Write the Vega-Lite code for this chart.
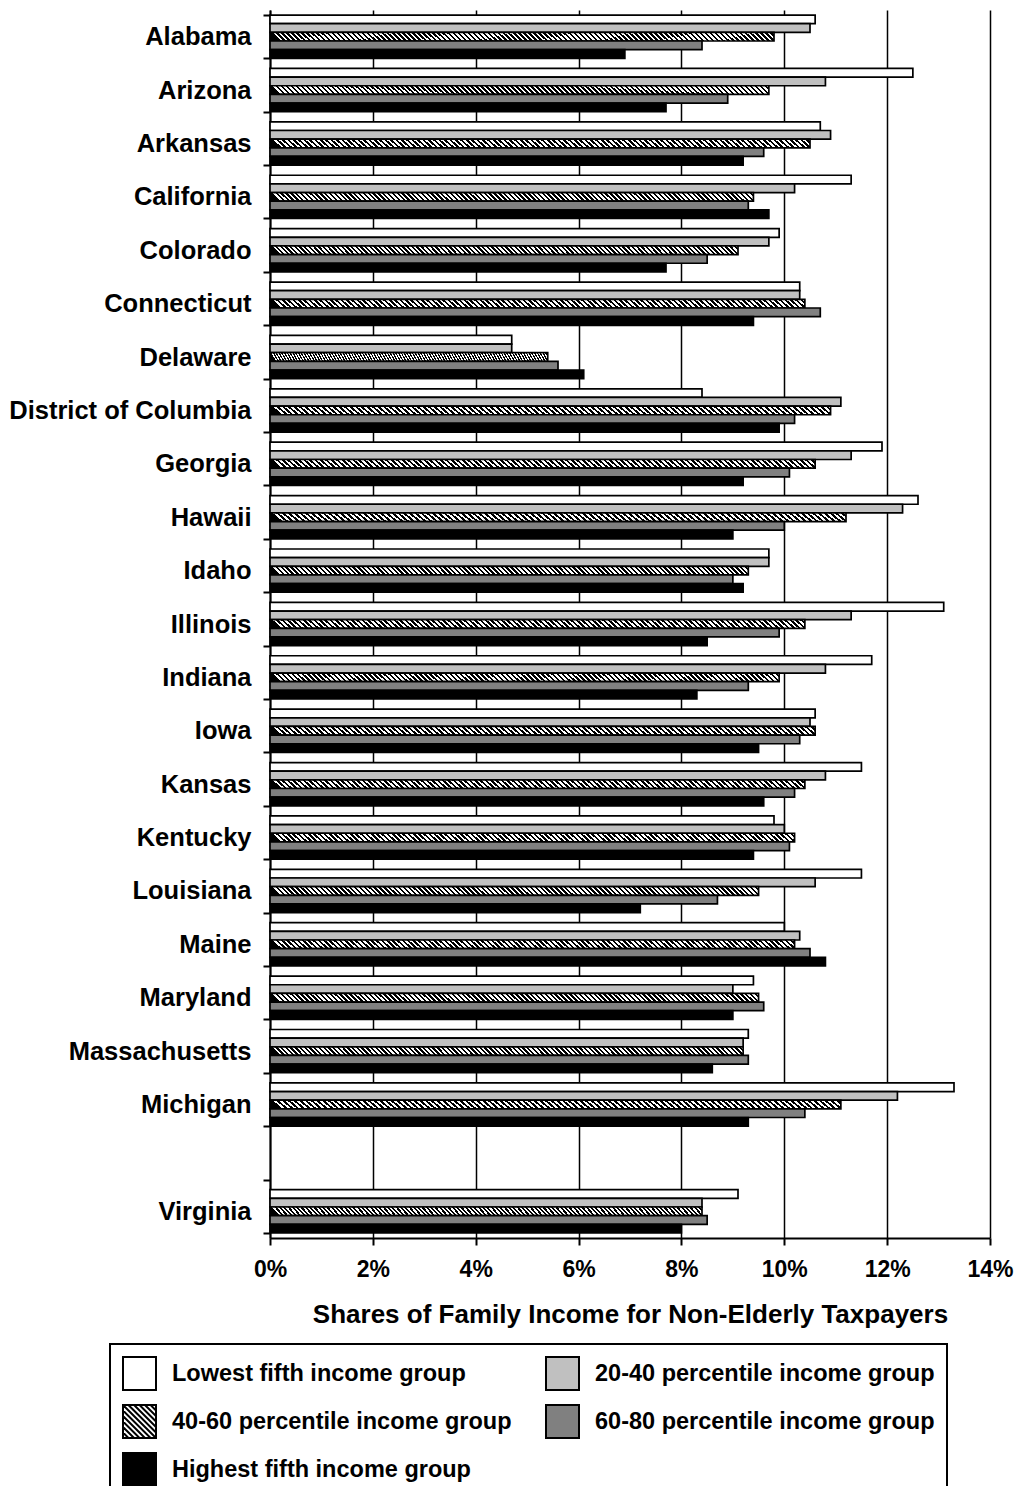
{
"$schema": "https://vega.github.io/schema/vega-lite/v6.json",
"autosize": {"type": "none"},
"width": 720,
"height": 1228,
"padding": {"left": 270, "top": 10, "right": 31, "bottom": 248},
"background": "white",
"config": {"view": {"stroke": null}, "font": "Liberation Sans"},
"data": {"values": [
{"state":"Alabama","group":"Lowest fifth income group","value":10.6},
{"state":"Alabama","group":"20-40 percentile income group","value":10.5},
{"state":"Alabama","group":"40-60 percentile income group","value":9.8},
{"state":"Alabama","group":"60-80 percentile income group","value":8.4},
{"state":"Alabama","group":"Highest fifth income group","value":6.9},
{"state":"Arizona","group":"Lowest fifth income group","value":12.5},
{"state":"Arizona","group":"20-40 percentile income group","value":10.8},
{"state":"Arizona","group":"40-60 percentile income group","value":9.7},
{"state":"Arizona","group":"60-80 percentile income group","value":8.9},
{"state":"Arizona","group":"Highest fifth income group","value":7.7},
{"state":"Arkansas","group":"Lowest fifth income group","value":10.7},
{"state":"Arkansas","group":"20-40 percentile income group","value":10.9},
{"state":"Arkansas","group":"40-60 percentile income group","value":10.5},
{"state":"Arkansas","group":"60-80 percentile income group","value":9.6},
{"state":"Arkansas","group":"Highest fifth income group","value":9.2},
{"state":"California","group":"Lowest fifth income group","value":11.3},
{"state":"California","group":"20-40 percentile income group","value":10.2},
{"state":"California","group":"40-60 percentile income group","value":9.4},
{"state":"California","group":"60-80 percentile income group","value":9.3},
{"state":"California","group":"Highest fifth income group","value":9.7},
{"state":"Colorado","group":"Lowest fifth income group","value":9.9},
{"state":"Colorado","group":"20-40 percentile income group","value":9.7},
{"state":"Colorado","group":"40-60 percentile income group","value":9.1},
{"state":"Colorado","group":"60-80 percentile income group","value":8.5},
{"state":"Colorado","group":"Highest fifth income group","value":7.7},
{"state":"Connecticut","group":"Lowest fifth income group","value":10.3},
{"state":"Connecticut","group":"20-40 percentile income group","value":10.3},
{"state":"Connecticut","group":"40-60 percentile income group","value":10.4},
{"state":"Connecticut","group":"60-80 percentile income group","value":10.7},
{"state":"Connecticut","group":"Highest fifth income group","value":9.4},
{"state":"Delaware","group":"Lowest fifth income group","value":4.7},
{"state":"Delaware","group":"20-40 percentile income group","value":4.7},
{"state":"Delaware","group":"40-60 percentile income group","value":5.4},
{"state":"Delaware","group":"60-80 percentile income group","value":5.6},
{"state":"Delaware","group":"Highest fifth income group","value":6.1},
{"state":"District of Columbia","group":"Lowest fifth income group","value":8.4},
{"state":"District of Columbia","group":"20-40 percentile income group","value":11.1},
{"state":"District of Columbia","group":"40-60 percentile income group","value":10.9},
{"state":"District of Columbia","group":"60-80 percentile income group","value":10.2},
{"state":"District of Columbia","group":"Highest fifth income group","value":9.9},
{"state":"Georgia","group":"Lowest fifth income group","value":11.9},
{"state":"Georgia","group":"20-40 percentile income group","value":11.3},
{"state":"Georgia","group":"40-60 percentile income group","value":10.6},
{"state":"Georgia","group":"60-80 percentile income group","value":10.1},
{"state":"Georgia","group":"Highest fifth income group","value":9.2},
{"state":"Hawaii","group":"Lowest fifth income group","value":12.6},
{"state":"Hawaii","group":"20-40 percentile income group","value":12.3},
{"state":"Hawaii","group":"40-60 percentile income group","value":11.2},
{"state":"Hawaii","group":"60-80 percentile income group","value":10.0},
{"state":"Hawaii","group":"Highest fifth income group","value":9.0},
{"state":"Idaho","group":"Lowest fifth income group","value":9.7},
{"state":"Idaho","group":"20-40 percentile income group","value":9.7},
{"state":"Idaho","group":"40-60 percentile income group","value":9.3},
{"state":"Idaho","group":"60-80 percentile income group","value":9.0},
{"state":"Idaho","group":"Highest fifth income group","value":9.2},
{"state":"Illinois","group":"Lowest fifth income group","value":13.1},
{"state":"Illinois","group":"20-40 percentile income group","value":11.3},
{"state":"Illinois","group":"40-60 percentile income group","value":10.4},
{"state":"Illinois","group":"60-80 percentile income group","value":9.9},
{"state":"Illinois","group":"Highest fifth income group","value":8.5},
{"state":"Indiana","group":"Lowest fifth income group","value":11.7},
{"state":"Indiana","group":"20-40 percentile income group","value":10.8},
{"state":"Indiana","group":"40-60 percentile income group","value":9.9},
{"state":"Indiana","group":"60-80 percentile income group","value":9.3},
{"state":"Indiana","group":"Highest fifth income group","value":8.3},
{"state":"Iowa","group":"Lowest fifth income group","value":10.6},
{"state":"Iowa","group":"20-40 percentile income group","value":10.5},
{"state":"Iowa","group":"40-60 percentile income group","value":10.6},
{"state":"Iowa","group":"60-80 percentile income group","value":10.3},
{"state":"Iowa","group":"Highest fifth income group","value":9.5},
{"state":"Kansas","group":"Lowest fifth income group","value":11.5},
{"state":"Kansas","group":"20-40 percentile income group","value":10.8},
{"state":"Kansas","group":"40-60 percentile income group","value":10.4},
{"state":"Kansas","group":"60-80 percentile income group","value":10.2},
{"state":"Kansas","group":"Highest fifth income group","value":9.6},
{"state":"Kentucky","group":"Lowest fifth income group","value":9.8},
{"state":"Kentucky","group":"20-40 percentile income group","value":10.0},
{"state":"Kentucky","group":"40-60 percentile income group","value":10.2},
{"state":"Kentucky","group":"60-80 percentile income group","value":10.1},
{"state":"Kentucky","group":"Highest fifth income group","value":9.4},
{"state":"Louisiana","group":"Lowest fifth income group","value":11.5},
{"state":"Louisiana","group":"20-40 percentile income group","value":10.6},
{"state":"Louisiana","group":"40-60 percentile income group","value":9.5},
{"state":"Louisiana","group":"60-80 percentile income group","value":8.7},
{"state":"Louisiana","group":"Highest fifth income group","value":7.2},
{"state":"Maine","group":"Lowest fifth income group","value":10.0},
{"state":"Maine","group":"20-40 percentile income group","value":10.3},
{"state":"Maine","group":"40-60 percentile income group","value":10.2},
{"state":"Maine","group":"60-80 percentile income group","value":10.5},
{"state":"Maine","group":"Highest fifth income group","value":10.8},
{"state":"Maryland","group":"Lowest fifth income group","value":9.4},
{"state":"Maryland","group":"20-40 percentile income group","value":9.0},
{"state":"Maryland","group":"40-60 percentile income group","value":9.5},
{"state":"Maryland","group":"60-80 percentile income group","value":9.6},
{"state":"Maryland","group":"Highest fifth income group","value":9.0},
{"state":"Massachusetts","group":"Lowest fifth income group","value":9.3},
{"state":"Massachusetts","group":"20-40 percentile income group","value":9.2},
{"state":"Massachusetts","group":"40-60 percentile income group","value":9.2},
{"state":"Massachusetts","group":"60-80 percentile income group","value":9.3},
{"state":"Massachusetts","group":"Highest fifth income group","value":8.6},
{"state":"Michigan","group":"Lowest fifth income group","value":13.3},
{"state":"Michigan","group":"20-40 percentile income group","value":12.2},
{"state":"Michigan","group":"40-60 percentile income group","value":11.1},
{"state":"Michigan","group":"60-80 percentile income group","value":10.4},
{"state":"Michigan","group":"Highest fifth income group","value":9.3},
{"state":"Virginia","group":"Lowest fifth income group","value":9.1},
{"state":"Virginia","group":"20-40 percentile income group","value":8.4},
{"state":"Virginia","group":"40-60 percentile income group","value":8.4},
{"state":"Virginia","group":"60-80 percentile income group","value":8.5},
{"state":"Virginia","group":"Highest fifth income group","value":8.0}
]},
"mark": {"type": "bar", "stroke": "black", "strokeWidth": 1.7},
"encoding": {
"y": {"field": "state", "type": "nominal", "sort": null,
 "scale": {"domain": ["Alabama","Arizona","Arkansas","California","Colorado","Connecticut","Delaware","District of Columbia","Georgia","Hawaii","Idaho","Illinois","Indiana","Iowa","Kansas","Kentucky","Louisiana","Maine","Maryland","Massachusetts","Michigan"," ","Virginia"], "paddingInner": 0.19, "paddingOuter": 0.095},
 "axis": {"title": null, "domainColor": "black", "domainWidth": 2, "ticks": true, "tickBand": "extent", "tickSize": 7, "tickColor": "black", "tickWidth": 2, "labelFont": "Liberation Sans", "labelFontWeight": "bold", "labelFontSize": 25.5, "labelColor": "black", "labelPadding": 12, "grid": false, "labelLimit": 300}},
"yOffset": {"field": "group", "type": "nominal", "sort": null,
 "scale": {"domain": ["Lowest fifth income group","20-40 percentile income group","40-60 percentile income group","60-80 percentile income group","Highest fifth income group"], "paddingInner": 0, "paddingOuter": 0}},
"x": {"field": "value", "type": "quantitative", "scale": {"domain": [0, 14], "nice": false},
 "axis": {"title": "Shares of Family Income for Non-Elderly Taxpayers", "values": [0,2,4,6,8,10,12,14], "labelExpr": "datum.value + '%'", "grid": true, "gridColor": "black", "gridWidth": 1.5, "gridOpacity": 1, "domainColor": "black", "domainWidth": 2, "tickColor": "black", "tickSize": 7, "tickWidth": 2, "labelFont": "Liberation Sans", "labelFontSize": 23, "labelFontWeight": "bold", "labelColor": "black", "labelPadding": 13, "labelFlush": false, "titleFont": "Liberation Sans", "titleFontSize": 26, "titleFontWeight": "bold", "titleColor": "black", "titlePadding": 20}},
"color": {
 "condition": {"test": "datum.group === '40-60 percentile income group'", "value": {"gradient": "linear", "x1": 0, "y1": 0.018, "x2": 1, "y2": 0, "stops": [
{"offset":0,"color":"#000"},{"offset":0.005,"color":"#000"},{"offset":0.005,"color":"#fff"},{"offset":0.01,"color":"#fff"},
{"offset":0.01,"color":"#000"},{"offset":0.015,"color":"#000"},{"offset":0.015,"color":"#fff"},{"offset":0.02,"color":"#fff"},
{"offset":0.02,"color":"#000"},{"offset":0.025,"color":"#000"},{"offset":0.025,"color":"#fff"},{"offset":0.03,"color":"#fff"},
{"offset":0.03,"color":"#000"},{"offset":0.035,"color":"#000"},{"offset":0.035,"color":"#fff"},{"offset":0.04,"color":"#fff"},
{"offset":0.04,"color":"#000"},{"offset":0.045,"color":"#000"},{"offset":0.045,"color":"#fff"},{"offset":0.05,"color":"#fff"},
{"offset":0.05,"color":"#000"},{"offset":0.055,"color":"#000"},{"offset":0.055,"color":"#fff"},{"offset":0.06,"color":"#fff"},
{"offset":0.06,"color":"#000"},{"offset":0.065,"color":"#000"},{"offset":0.065,"color":"#fff"},{"offset":0.07,"color":"#fff"},
{"offset":0.07,"color":"#000"},{"offset":0.075,"color":"#000"},{"offset":0.075,"color":"#fff"},{"offset":0.08,"color":"#fff"},
{"offset":0.08,"color":"#000"},{"offset":0.085,"color":"#000"},{"offset":0.085,"color":"#fff"},{"offset":0.09,"color":"#fff"},
{"offset":0.09,"color":"#000"},{"offset":0.095,"color":"#000"},{"offset":0.095,"color":"#fff"},{"offset":0.1,"color":"#fff"},
{"offset":0.1,"color":"#000"},{"offset":0.105,"color":"#000"},{"offset":0.105,"color":"#fff"},{"offset":0.11,"color":"#fff"},
{"offset":0.11,"color":"#000"},{"offset":0.115,"color":"#000"},{"offset":0.115,"color":"#fff"},{"offset":0.12,"color":"#fff"},
{"offset":0.12,"color":"#000"},{"offset":0.125,"color":"#000"},{"offset":0.125,"color":"#fff"},{"offset":0.13,"color":"#fff"},
{"offset":0.13,"color":"#000"},{"offset":0.135,"color":"#000"},{"offset":0.135,"color":"#fff"},{"offset":0.14,"color":"#fff"},
{"offset":0.14,"color":"#000"},{"offset":0.145,"color":"#000"},{"offset":0.145,"color":"#fff"},{"offset":0.15,"color":"#fff"},
{"offset":0.15,"color":"#000"},{"offset":0.155,"color":"#000"},{"offset":0.155,"color":"#fff"},{"offset":0.16,"color":"#fff"},
{"offset":0.16,"color":"#000"},{"offset":0.165,"color":"#000"},{"offset":0.165,"color":"#fff"},{"offset":0.17,"color":"#fff"},
{"offset":0.17,"color":"#000"},{"offset":0.175,"color":"#000"},{"offset":0.175,"color":"#fff"},{"offset":0.18,"color":"#fff"},
{"offset":0.18,"color":"#000"},{"offset":0.185,"color":"#000"},{"offset":0.185,"color":"#fff"},{"offset":0.19,"color":"#fff"},
{"offset":0.19,"color":"#000"},{"offset":0.195,"color":"#000"},{"offset":0.195,"color":"#fff"},{"offset":0.2,"color":"#fff"},
{"offset":0.2,"color":"#000"},{"offset":0.205,"color":"#000"},{"offset":0.205,"color":"#fff"},{"offset":0.21,"color":"#fff"},
{"offset":0.21,"color":"#000"},{"offset":0.215,"color":"#000"},{"offset":0.215,"color":"#fff"},{"offset":0.22,"color":"#fff"},
{"offset":0.22,"color":"#000"},{"offset":0.225,"color":"#000"},{"offset":0.225,"color":"#fff"},{"offset":0.23,"color":"#fff"},
{"offset":0.23,"color":"#000"},{"offset":0.235,"color":"#000"},{"offset":0.235,"color":"#fff"},{"offset":0.24,"color":"#fff"},
{"offset":0.24,"color":"#000"},{"offset":0.245,"color":"#000"},{"offset":0.245,"color":"#fff"},{"offset":0.25,"color":"#fff"},
{"offset":0.25,"color":"#000"},{"offset":0.255,"color":"#000"},{"offset":0.255,"color":"#fff"},{"offset":0.26,"color":"#fff"},
{"offset":0.26,"color":"#000"},{"offset":0.265,"color":"#000"},{"offset":0.265,"color":"#fff"},{"offset":0.27,"color":"#fff"},
{"offset":0.27,"color":"#000"},{"offset":0.275,"color":"#000"},{"offset":0.275,"color":"#fff"},{"offset":0.28,"color":"#fff"},
{"offset":0.28,"color":"#000"},{"offset":0.285,"color":"#000"},{"offset":0.285,"color":"#fff"},{"offset":0.29,"color":"#fff"},
{"offset":0.29,"color":"#000"},{"offset":0.295,"color":"#000"},{"offset":0.295,"color":"#fff"},{"offset":0.3,"color":"#fff"},
{"offset":0.3,"color":"#000"},{"offset":0.305,"color":"#000"},{"offset":0.305,"color":"#fff"},{"offset":0.31,"color":"#fff"},
{"offset":0.31,"color":"#000"},{"offset":0.315,"color":"#000"},{"offset":0.315,"color":"#fff"},{"offset":0.32,"color":"#fff"},
{"offset":0.32,"color":"#000"},{"offset":0.325,"color":"#000"},{"offset":0.325,"color":"#fff"},{"offset":0.33,"color":"#fff"},
{"offset":0.33,"color":"#000"},{"offset":0.335,"color":"#000"},{"offset":0.335,"color":"#fff"},{"offset":0.34,"color":"#fff"},
{"offset":0.34,"color":"#000"},{"offset":0.345,"color":"#000"},{"offset":0.345,"color":"#fff"},{"offset":0.35,"color":"#fff"},
{"offset":0.35,"color":"#000"},{"offset":0.355,"color":"#000"},{"offset":0.355,"color":"#fff"},{"offset":0.36,"color":"#fff"},
{"offset":0.36,"color":"#000"},{"offset":0.365,"color":"#000"},{"offset":0.365,"color":"#fff"},{"offset":0.37,"color":"#fff"},
{"offset":0.37,"color":"#000"},{"offset":0.375,"color":"#000"},{"offset":0.375,"color":"#fff"},{"offset":0.38,"color":"#fff"},
{"offset":0.38,"color":"#000"},{"offset":0.385,"color":"#000"},{"offset":0.385,"color":"#fff"},{"offset":0.39,"color":"#fff"},
{"offset":0.39,"color":"#000"},{"offset":0.395,"color":"#000"},{"offset":0.395,"color":"#fff"},{"offset":0.4,"color":"#fff"},
{"offset":0.4,"color":"#000"},{"offset":0.405,"color":"#000"},{"offset":0.405,"color":"#fff"},{"offset":0.41,"color":"#fff"},
{"offset":0.41,"color":"#000"},{"offset":0.415,"color":"#000"},{"offset":0.415,"color":"#fff"},{"offset":0.42,"color":"#fff"},
{"offset":0.42,"color":"#000"},{"offset":0.425,"color":"#000"},{"offset":0.425,"color":"#fff"},{"offset":0.43,"color":"#fff"},
{"offset":0.43,"color":"#000"},{"offset":0.435,"color":"#000"},{"offset":0.435,"color":"#fff"},{"offset":0.44,"color":"#fff"},
{"offset":0.44,"color":"#000"},{"offset":0.445,"color":"#000"},{"offset":0.445,"color":"#fff"},{"offset":0.45,"color":"#fff"},
{"offset":0.45,"color":"#000"},{"offset":0.455,"color":"#000"},{"offset":0.455,"color":"#fff"},{"offset":0.46,"color":"#fff"},
{"offset":0.46,"color":"#000"},{"offset":0.465,"color":"#000"},{"offset":0.465,"color":"#fff"},{"offset":0.47,"color":"#fff"},
{"offset":0.47,"color":"#000"},{"offset":0.475,"color":"#000"},{"offset":0.475,"color":"#fff"},{"offset":0.48,"color":"#fff"},
{"offset":0.48,"color":"#000"},{"offset":0.485,"color":"#000"},{"offset":0.485,"color":"#fff"},{"offset":0.49,"color":"#fff"},
{"offset":0.49,"color":"#000"},{"offset":0.495,"color":"#000"},{"offset":0.495,"color":"#fff"},{"offset":0.5,"color":"#fff"},
{"offset":0.5,"color":"#000"},{"offset":0.505,"color":"#000"},{"offset":0.505,"color":"#fff"},{"offset":0.51,"color":"#fff"},
{"offset":0.51,"color":"#000"},{"offset":0.515,"color":"#000"},{"offset":0.515,"color":"#fff"},{"offset":0.52,"color":"#fff"},
{"offset":0.52,"color":"#000"},{"offset":0.525,"color":"#000"},{"offset":0.525,"color":"#fff"},{"offset":0.53,"color":"#fff"},
{"offset":0.53,"color":"#000"},{"offset":0.535,"color":"#000"},{"offset":0.535,"color":"#fff"},{"offset":0.54,"color":"#fff"},
{"offset":0.54,"color":"#000"},{"offset":0.545,"color":"#000"},{"offset":0.545,"color":"#fff"},{"offset":0.55,"color":"#fff"},
{"offset":0.55,"color":"#000"},{"offset":0.555,"color":"#000"},{"offset":0.555,"color":"#fff"},{"offset":0.56,"color":"#fff"},
{"offset":0.56,"color":"#000"},{"offset":0.565,"color":"#000"},{"offset":0.565,"color":"#fff"},{"offset":0.57,"color":"#fff"},
{"offset":0.57,"color":"#000"},{"offset":0.575,"color":"#000"},{"offset":0.575,"color":"#fff"},{"offset":0.58,"color":"#fff"},
{"offset":0.58,"color":"#000"},{"offset":0.585,"color":"#000"},{"offset":0.585,"color":"#fff"},{"offset":0.59,"color":"#fff"},
{"offset":0.59,"color":"#000"},{"offset":0.595,"color":"#000"},{"offset":0.595,"color":"#fff"},{"offset":0.6,"color":"#fff"},
{"offset":0.6,"color":"#000"},{"offset":0.605,"color":"#000"},{"offset":0.605,"color":"#fff"},{"offset":0.61,"color":"#fff"},
{"offset":0.61,"color":"#000"},{"offset":0.615,"color":"#000"},{"offset":0.615,"color":"#fff"},{"offset":0.62,"color":"#fff"},
{"offset":0.62,"color":"#000"},{"offset":0.625,"color":"#000"},{"offset":0.625,"color":"#fff"},{"offset":0.63,"color":"#fff"},
{"offset":0.63,"color":"#000"},{"offset":0.635,"color":"#000"},{"offset":0.635,"color":"#fff"},{"offset":0.64,"color":"#fff"},
{"offset":0.64,"color":"#000"},{"offset":0.645,"color":"#000"},{"offset":0.645,"color":"#fff"},{"offset":0.65,"color":"#fff"},
{"offset":0.65,"color":"#000"},{"offset":0.655,"color":"#000"},{"offset":0.655,"color":"#fff"},{"offset":0.66,"color":"#fff"},
{"offset":0.66,"color":"#000"},{"offset":0.665,"color":"#000"},{"offset":0.665,"color":"#fff"},{"offset":0.67,"color":"#fff"},
{"offset":0.67,"color":"#000"},{"offset":0.675,"color":"#000"},{"offset":0.675,"color":"#fff"},{"offset":0.68,"color":"#fff"},
{"offset":0.68,"color":"#000"},{"offset":0.685,"color":"#000"},{"offset":0.685,"color":"#fff"},{"offset":0.69,"color":"#fff"},
{"offset":0.69,"color":"#000"},{"offset":0.695,"color":"#000"},{"offset":0.695,"color":"#fff"},{"offset":0.7,"color":"#fff"},
{"offset":0.7,"color":"#000"},{"offset":0.705,"color":"#000"},{"offset":0.705,"color":"#fff"},{"offset":0.71,"color":"#fff"},
{"offset":0.71,"color":"#000"},{"offset":0.715,"color":"#000"},{"offset":0.715,"color":"#fff"},{"offset":0.72,"color":"#fff"},
{"offset":0.72,"color":"#000"},{"offset":0.725,"color":"#000"},{"offset":0.725,"color":"#fff"},{"offset":0.73,"color":"#fff"},
{"offset":0.73,"color":"#000"},{"offset":0.735,"color":"#000"},{"offset":0.735,"color":"#fff"},{"offset":0.74,"color":"#fff"},
{"offset":0.74,"color":"#000"},{"offset":0.745,"color":"#000"},{"offset":0.745,"color":"#fff"},{"offset":0.75,"color":"#fff"},
{"offset":0.75,"color":"#000"},{"offset":0.755,"color":"#000"},{"offset":0.755,"color":"#fff"},{"offset":0.76,"color":"#fff"},
{"offset":0.76,"color":"#000"},{"offset":0.765,"color":"#000"},{"offset":0.765,"color":"#fff"},{"offset":0.77,"color":"#fff"},
{"offset":0.77,"color":"#000"},{"offset":0.775,"color":"#000"},{"offset":0.775,"color":"#fff"},{"offset":0.78,"color":"#fff"},
{"offset":0.78,"color":"#000"},{"offset":0.785,"color":"#000"},{"offset":0.785,"color":"#fff"},{"offset":0.79,"color":"#fff"},
{"offset":0.79,"color":"#000"},{"offset":0.795,"color":"#000"},{"offset":0.795,"color":"#fff"},{"offset":0.8,"color":"#fff"},
{"offset":0.8,"color":"#000"},{"offset":0.805,"color":"#000"},{"offset":0.805,"color":"#fff"},{"offset":0.81,"color":"#fff"},
{"offset":0.81,"color":"#000"},{"offset":0.815,"color":"#000"},{"offset":0.815,"color":"#fff"},{"offset":0.82,"color":"#fff"},
{"offset":0.82,"color":"#000"},{"offset":0.825,"color":"#000"},{"offset":0.825,"color":"#fff"},{"offset":0.83,"color":"#fff"},
{"offset":0.83,"color":"#000"},{"offset":0.835,"color":"#000"},{"offset":0.835,"color":"#fff"},{"offset":0.84,"color":"#fff"},
{"offset":0.84,"color":"#000"},{"offset":0.845,"color":"#000"},{"offset":0.845,"color":"#fff"},{"offset":0.85,"color":"#fff"},
{"offset":0.85,"color":"#000"},{"offset":0.855,"color":"#000"},{"offset":0.855,"color":"#fff"},{"offset":0.86,"color":"#fff"},
{"offset":0.86,"color":"#000"},{"offset":0.865,"color":"#000"},{"offset":0.865,"color":"#fff"},{"offset":0.87,"color":"#fff"},
{"offset":0.87,"color":"#000"},{"offset":0.875,"color":"#000"},{"offset":0.875,"color":"#fff"},{"offset":0.88,"color":"#fff"},
{"offset":0.88,"color":"#000"},{"offset":0.885,"color":"#000"},{"offset":0.885,"color":"#fff"},{"offset":0.89,"color":"#fff"},
{"offset":0.89,"color":"#000"},{"offset":0.895,"color":"#000"},{"offset":0.895,"color":"#fff"},{"offset":0.9,"color":"#fff"},
{"offset":0.9,"color":"#000"},{"offset":0.905,"color":"#000"},{"offset":0.905,"color":"#fff"},{"offset":0.91,"color":"#fff"},
{"offset":0.91,"color":"#000"},{"offset":0.915,"color":"#000"},{"offset":0.915,"color":"#fff"},{"offset":0.92,"color":"#fff"},
{"offset":0.92,"color":"#000"},{"offset":0.925,"color":"#000"},{"offset":0.925,"color":"#fff"},{"offset":0.93,"color":"#fff"},
{"offset":0.93,"color":"#000"},{"offset":0.935,"color":"#000"},{"offset":0.935,"color":"#fff"},{"offset":0.94,"color":"#fff"},
{"offset":0.94,"color":"#000"},{"offset":0.945,"color":"#000"},{"offset":0.945,"color":"#fff"},{"offset":0.95,"color":"#fff"},
{"offset":0.95,"color":"#000"},{"offset":0.955,"color":"#000"},{"offset":0.955,"color":"#fff"},{"offset":0.96,"color":"#fff"},
{"offset":0.96,"color":"#000"},{"offset":0.965,"color":"#000"},{"offset":0.965,"color":"#fff"},{"offset":0.97,"color":"#fff"},
{"offset":0.97,"color":"#000"},{"offset":0.975,"color":"#000"},{"offset":0.975,"color":"#fff"},{"offset":0.98,"color":"#fff"},
{"offset":0.98,"color":"#000"},{"offset":0.985,"color":"#000"},{"offset":0.985,"color":"#fff"},{"offset":0.99,"color":"#fff"},
{"offset":0.99,"color":"#000"},{"offset":0.995,"color":"#000"},{"offset":0.995,"color":"#fff"},{"offset":1,"color":"#fff"}
 ]}},
 "field": "group", "type": "nominal",
 "scale": {"domain": ["Lowest fifth income group","20-40 percentile income group","40-60 percentile income group","60-80 percentile income group","Highest fifth income group"],
  "range": ["#ffffff", "#c0c0c0", "#ffffff", "#808080", "#000000"]},
 "legend": {"orient": "none", "legendX": -160, "legendY": 1334, "columns": 2, "direction": "horizontal", "title": null, "symbolType": "square", "symbolSize": 1089, "symbolStrokeColor": "black", "symbolStrokeWidth": 2, "symbolOpacity": 1, "labelFont": "Liberation Sans", "labelFontSize": 23.5, "labelFontWeight": "bold", "labelColor": "black", "labelOffset": 15, "labelLimit": 500, "columnPadding": 30, "rowPadding": 7, "strokeColor": "black", "padding": 12,
  "encode": {
   "legend": {"update": {"strokeWidth": {"value": 2}}},
   "symbols": {"update": {
    "stroke": {"value": "#000000"},
    "strokeWidth": {"value": 2},
    "shape": [
     {"test": "datum.value === '40-60 percentile income group'", "value": "M-1,-1H1V1H-1Z M-1,-1L1,1 M-0.67,-1L1,0.67 M-0.33,-1L1,0.33 M0,-1L1,0 M0.33,-1L1,-0.33 M0.67,-1L1,-0.67 M-1,-0.67L0.67,1 M-1,-0.33L0.33,1 M-1,0L0,1 M-1,0.33L-0.33,1 M-1,0.67L-0.67,1"},
     {"value": "square"}
    ]
   }}
  }}
}
}
}
